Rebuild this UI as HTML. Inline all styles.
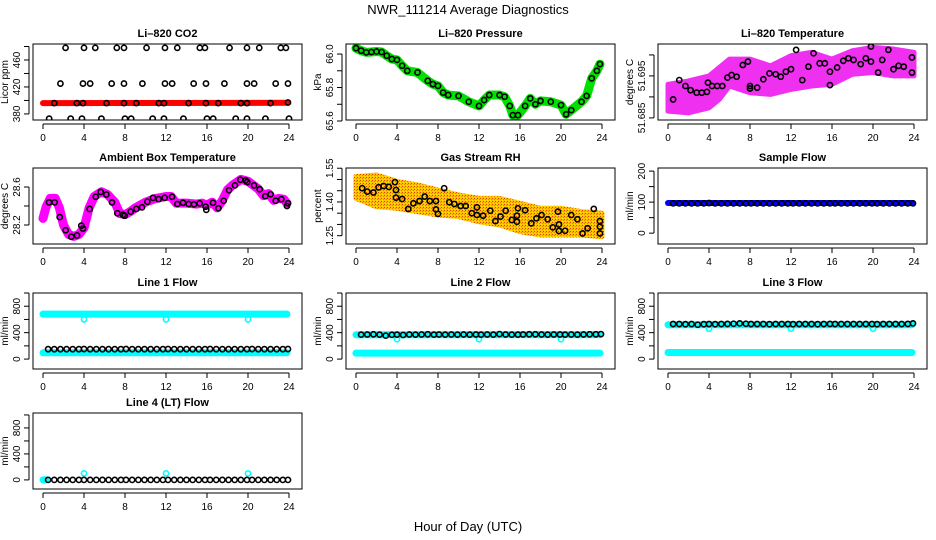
<!DOCTYPE html>
<html><head><meta charset="utf-8">
<style>
html,body{margin:0;padding:0;background:#fff;}
svg{display:block;font-family:"Liberation Sans",sans-serif;}
</style></head>
<body>
<svg id="chart" width="936" height="540" viewBox="0 0 936 540" xmlns="http://www.w3.org/2000/svg">
<defs>
<pattern id="rhpat" width="3" height="3" patternUnits="userSpaceOnUse">
<rect width="3" height="3" fill="#ffc400"/><rect width="1" height="1" fill="#e04000"/><rect x="2" y="1" width="1" height="1" fill="#f08000"/><rect x="1" y="2" width="1" height="1" fill="#ffe000"/>
</pattern>
</defs>
<text x="468" y="14" text-anchor="middle" font-size="13">NWR_111214  Average Diagnostics</text>
<text x="468" y="531" text-anchor="middle" font-size="13">Hour of Day (UTC)</text>
</svg>
<script>
// ---------- data ----------
const xTicks=[0,4,8,12,16,20,24];
// CO2
const co2Hours=[2.2,4.0,5.1,7.2,7.9,10.1,11.9,13.1,15.3,15.8,18.2,19.9,21.1,23.2,23.7,
 1.7,3.9,4.6,6.7,7.9,9.7,11.9,12.6,14.7,15.9,17.7,19.9,20.6,22.7,23.9,
 1.1,3.3,3.9,6.2,7.9,9.1,11.3,11.8,14.2,15.9,17.1,19.3,19.9,22.2,23.9,
 0.6,2.7,3.8,5.7,8.0,8.6,10.7,11.8,13.7,16.0,16.6,18.8,19.9,21.7,24.0];
const co2Values=[478,478,478,478,478,478,478,478,478,478,478,478,478,478,478,
 425,425,425,425,425,425,425,425,425,425,425,425,425,425,425,
 396,396,396,396,396,396,396,396,396,396,396,396,396,396,397,
 373,373,373,373,373,373,373,373,373,373,373,373,373,373,373];
const co2LineHours=[0,23.9];
const co2LineValues=[396,396.5];
const co2Ticks=[380,400,420,440,460,480];
const co2Labels=["380","420","460"];
// Pressure
const presHours=[0,0.5,1,1.5,2,2.5,3,3.5,4,4.5,5,6,7,7.5,8,8.5,9,10,11,12,12.5,13,14,14.5,15,15.3,15.8,16.5,17,17.5,18,19,20,20.5,21,22,22.5,23,23.5,23.8];
const presValues=[66.035,66.02,66.01,66.012,66.015,66.012,65.99,65.97,65.965,65.93,65.90,65.89,65.84,65.82,65.81,65.77,65.755,65.75,65.715,65.69,65.725,65.755,65.755,65.745,65.69,65.635,65.635,65.69,65.735,65.70,65.72,65.715,65.695,65.64,65.665,65.715,65.75,65.855,65.90,65.94];
const presTicks=[65.6,65.7,65.8,65.9,66.0];
const presLabels=["65.6","65.8","66.0"];
// Li-820 temperature
const ltBandHours=[0,2,4,5,6,8,10,12,14,16,18,20,22,24];
const ltUpper=[51.693,51.6938,51.695,51.697,51.699,51.699,51.6974,51.6998,51.7006,51.699,51.701,51.7018,51.7014,51.7006];
const ltLower=[51.6866,51.6862,51.6874,51.6894,51.6926,51.691,51.6906,51.6918,51.6926,51.693,51.6954,51.6958,51.695,51.695];
const ltHours=[0.5,1.1,1.7,2.2,2.8,3.3,3.8,3.9,4.3,4.8,5.3,5.8,6.2,6.7,7.3,7.8,8.0,8.0,8.7,9.3,9.9,10.5,11.0,11.5,12.0,12.5,13.1,13.7,14.2,14.8,15.3,15.8,15.8,16.5,17.1,17.6,18.1,18.8,19.3,19.8,19.8,20.5,20.9,21.5,22.0,22.5,23.0,23.8,23.8];
const ltValues=[51.6894,51.694,51.6926,51.6916,51.691,51.691,51.6912,51.6934,51.6926,51.6926,51.6926,51.6946,51.6952,51.6948,51.6976,51.6984,51.6926,51.692,51.6922,51.6942,51.6956,51.6954,51.6948,51.696,51.6966,51.7012,51.694,51.6972,51.7004,51.698,51.698,51.696,51.6928,51.697,51.6986,51.6992,51.6988,51.6978,51.6992,51.6984,51.702,51.6958,51.6988,51.7012,51.6966,51.6974,51.6972,51.6994,51.6958];
const ltTicks=[51.685,51.690,51.695,51.700];
const ltLabels=["51.685","51.695"];
// Ambient box temperature
const boxLineHours=[0,0.3,0.7,1.2,1.6,2,2.5,3,3.5,4,4.5,5,5.7,6.3,7,7.5,8,8.5,9,10,11,12,12.5,13,14,15,15.5,16,16.5,17,17.5,18,18.5,19.3,20,20.5,21,21.5,22,22.5,23,23.5,23.8];
const boxLineValues=[28.27,28.39,28.48,28.48,28.38,28.2,28.1,28.08,28.1,28.17,28.38,28.5,28.55,28.52,28.44,28.32,28.31,28.34,28.38,28.44,28.48,28.5,28.5,28.43,28.43,28.42,28.43,28.41,28.44,28.38,28.46,28.57,28.62,28.68,28.66,28.62,28.58,28.51,28.53,28.46,28.48,28.47,28.43];
const boxHours=[0.59,1.14,1.63,2.21,2.76,3.32,3.74,3.90,4.55,5.14,5.63,6.18,6.73,7.25,7.80,7.97,8.55,9.11,9.66,10.18,10.73,11.28,11.87,12.59,13.11,13.66,14.21,14.73,15.28,15.87,15.93,16.59,17.11,17.63,18.15,18.73,19.25,19.77,19.93,20.59,21.14,21.69,22.21,22.70,23.25,23.80,23.90];
const boxValues=[28.438,28.438,28.283,28.145,28.076,28.090,28.193,28.162,28.369,28.497,28.548,28.521,28.438,28.324,28.307,28.297,28.341,28.369,28.386,28.445,28.486,28.472,28.486,28.497,28.421,28.434,28.421,28.417,28.428,28.393,28.359,28.434,28.376,28.455,28.566,28.617,28.676,28.669,28.652,28.617,28.576,28.503,28.524,28.455,28.472,28.400,28.428];
const boxTicks=[28.2,28.4,28.6];
const boxLabels=["28.2","28.6"];
// Gas stream RH
const rhBandHours=[0,2,4,6,8,10,12,14,16,18,20,22,24];
const rhUpper=[1.513,1.520,1.491,1.476,1.453,1.431,1.416,1.416,1.394,1.372,1.372,1.357,1.350];
const rhLower=[1.416,1.379,1.372,1.357,1.342,1.335,1.312,1.298,1.268,1.253,1.253,1.253,1.246];
const rhHours=[0.6,1.1,1.7,2.2,2.7,3.2,3.8,3.9,3.9,4.5,5.1,5.6,6.2,6.7,7.2,7.8,7.8,8.0,8.6,9.1,9.6,10.2,10.7,11.3,11.8,11.8,12.4,13.1,13.6,14.1,14.6,15.2,15.7,15.7,15.8,16.5,17.1,17.6,18.1,18.7,19.2,19.7,19.8,19.8,20.4,21.0,21.6,22.1,22.6,23.2,23.8,23.8,23.8];
const rhValues=[1.461,1.446,1.442,1.465,1.471,1.467,1.488,1.453,1.419,1.413,1.369,1.394,1.404,1.424,1.404,1.404,1.367,1.347,1.461,1.399,1.391,1.382,1.382,1.350,1.376,1.342,1.339,1.361,1.315,1.335,1.361,1.320,1.312,1.339,1.372,1.363,1.305,1.327,1.342,1.323,1.287,1.357,1.300,1.271,1.272,1.342,1.323,1.260,1.283,1.369,1.315,1.290,1.260];
const rhTicks=[1.25,1.30,1.35,1.40,1.45,1.50,1.55];
const rhLabels=["1.25","1.40","1.55"];
// Flows
const flowHours=[0.5,1.1,1.7,2.3,2.9,3.5,4.0,4.6,5.2,5.8,6.4,7.0,7.6,8.1,8.7,9.3,9.9,10.5,11.1,11.7,12.2,12.8,13.4,14.0,14.6,15.2,15.8,16.3,16.9,17.5,18.1,18.7,19.3,19.9,20.4,21.0,21.6,22.2,22.8,23.4,23.9];
const sampleBlack=[96,96,96,96,96,96,97,96,96,96,96,96,96,96,96,96,96,96,96,96,96,96,96,96,96,96,96,96,96,96,96,96,96,96,96,96,96,96,96,96,96];
const sampleLineHours=[0,23.9];
const sampleLineValues=[97,97];
const line1Black=[150,150,150,150,150,150,152,150,150,150,150,150,150,152,150,150,150,150,150,150,152,150,150,150,150,150,150,152,150,150,150,150,150,150,152,150,150,150,150,150,152];
const line1CyanHigh=[680,680];
const line1CyanLow=[95,95];
const line1OutHours=[4,12,20];
const line1OutValues=[600,600,600];
const line2Black=[370,372,375,370,355,368,370,365,372,370,372,375,370,372,370,372,370,372,370,372,370,372,370,378,372,370,370,372,375,375,372,370,372,372,370,372,370,372,375,375,378];
const line2CyanHigh=[368,370];
const line2CyanLow=[90,90];
const line2OutHours=[4,12,20];
const line2OutValues=[300,300,300];
const line3Black=[530,530,528,530,520,528,530,528,530,532,535,540,535,530,530,530,528,530,530,530,528,530,530,530,528,530,532,530,530,530,530,530,530,530,528,530,530,530,530,532,540];
const line3CyanHigh=[520,520];
const line3CyanLow=[100,100];
const line3OutHours=[4,12,20];
const line3OutValues=[460,460,460];
const line4Black=[0,0,0,0,0,0,0,0,0,0,0,0,0,0,0,0,0,0,0,0,0,0,0,0,0,0,0,0,0,0,0,0,0,0,0,0,0,0,0,0,0];
const line4Cyan=[0,0];
const line4CyanHours=[0,0.3];
const line4OutHours=[4,12,20];
const line4OutValues=[100,100,100];
const flowTicks=[0,200,400,600,800,1000];
const flowLabels=["0","400","800"];
const fullHours=[0,23.8];

// ---------- drawing ----------
const NS='http://www.w3.org/2000/svg';
const svg=document.getElementById('chart');
const COLS=[33,346,658], ROWS=[44,168,293,413], W=269, H=76;
function el(tag,attrs,parent){const e=document.createElementNS(NS,tag);for(const k in attrs)e.setAttribute(k,attrs[k]);(parent||svg).appendChild(e);return e;}

function makePanel(name,col,row,title,ylab,ymin,ymax,ticks,labels){
  const L=COLS[col],T=ROWS[row],B=T+H;
  const g=el('g',{});
  
  
  const xs=h=>L+10+h*(246/24);
  const ys=v=>B-(v-ymin)/(ymax-ymin)*H;
  const t=el('text',{x:L+W/2,y:T-7,'text-anchor':'middle','font-size':11,'font-weight':'bold'},g);t.textContent=title;
  
  
  const xa=el('g',{},g);
  
  
  el('line',{x1:xs(0),x2:xs(24),y1:B+4,y2:B+4,stroke:'#000','stroke-width':1},xa);
  xTicks.forEach(v=>{el('line',{x1:xs(v),x2:xs(v),y1:B+4,y2:B+9,stroke:'#000'},xa);
    const tx=el('text',{x:xs(v),y:B+21,'text-anchor':'middle','font-size':10},xa);tx.textContent=v;});
  const ya=el('g',{},g);
  
  
  el('line',{x1:L-4,x2:L-4,y1:ys(ticks[0]),y2:ys(ticks[ticks.length-1]),stroke:'#000'},ya);
  ticks.forEach(v=>el('line',{x1:L-9,x2:L-4,y1:ys(v),y2:ys(v),stroke:'#000'},ya));
  labels.forEach(s=>{const X=L-13,Y=ys(parseFloat(s));const tx=el('text',{x:X,y:Y,'text-anchor':'middle','font-size':10,transform:`rotate(-90 ${X} ${Y})`},ya);tx.textContent=s;});
  const yl=el('text',{x:L-25,y:T+H/2,'text-anchor':'middle','font-size':10,transform:`rotate(-90 ${L-25} ${T+H/2})`},g);yl.textContent=ylab;
  
  
  const clipId='c'+name;
  const cp=el('clipPath',{id:clipId},g);el('rect',{x:L,y:T,width:W,height:H},cp);
  const plot=el('g',{'clip-path':`url(#${clipId})`},g);
  const box=el('rect',{x:L,y:T,width:W,height:H,fill:'none',stroke:'#000','stroke-width':1},g);
  
  
  return {g:plot,xs,ys};
}
function line(p,hs,vs,color,w,nm){
  const pl=el('polyline',{points:hs.map((h,i)=>p.xs(h)+','+p.ys(vs[i])).join(' '),fill:'none',stroke:color,'stroke-width':w,'stroke-linecap':'round','stroke-linejoin':'round'},p.g);
  
  
}
function band(p,hs,up,lo,fill,nm){
  const pts=hs.map((h,i)=>p.xs(h)+','+p.ys(up[i])).concat(hs.slice().reverse().map((h,i)=>p.xs(h)+','+p.ys(lo[hs.length-1-i])));
  const pg=el('polygon',{points:pts.join(' '),fill:fill,stroke:fill,'stroke-width':5,'stroke-linejoin':'round'},p.g);
  
  
}
function pts(p,hs,vs,color,nm){
  const gg=el('g',{},p.g);
  
  
  hs.forEach((h,i)=>{const c=el('circle',{cx:p.xs(h),cy:p.ys(vs[i]),r:2.6,fill:'none',stroke:color,'stroke-width':1.6},gg);
    
    });
}

let p;
p=makePanel('co2',0,0,'Li–820 CO2','Licor ppm',371,483.7,co2Ticks,co2Labels);
line(p,co2LineHours,co2LineValues,'#ff0000',6,'co2-line');
pts(p,co2Hours,co2Values,'#000','co2-points');

p=makePanel('pressure',1,0,'Li–820 Pressure','kPa',65.606,66.06,presTicks,presLabels);
line(p,presHours,presValues,'#00e000',9,'pressure-line');
pts(p,presHours,presValues,'#000','pressure-points');

p=makePanel('li820-temp',2,0,'Li–820 Temperature','degrees C',51.6845,51.7026,ltTicks,ltLabels);
band(p,ltBandHours,ltUpper,ltLower,'#f030f0','li820-temp-cloud');
pts(p,ltHours,ltValues,'#000','li820-temp-points');

p=makePanel('box-temp',0,1,'Ambient Box Temperature','degrees C',28.0,28.8,boxTicks,boxLabels);
line(p,boxLineHours,boxLineValues,'#ff00ff',9,'box-temp-line');
pts(p,boxHours,boxValues,'#000','box-temp-points');

p=makePanel('rh',1,1,'Gas Stream RH','percent',1.213,1.551,rhTicks,rhLabels);
band(p,rhBandHours,rhUpper,rhLower,'url(#rhpat)','rh-cloud');
pts(p,rhHours,rhValues,'#000','rh-points');

p=makePanel('sample-flow',2,1,'Sample Flow','ml/min',-35,210,[0,50,100,150,200],["0","100","200"]);
line(p,sampleLineHours,sampleLineValues,'#0000ff',6,'sample-flow-line');
pts(p,flowHours,sampleBlack,'#000','sample-flow-points');

p=makePanel('line1-flow',0,2,'Line 1 Flow','ml/min',-150,1000,flowTicks,flowLabels);
line(p,fullHours,line1CyanHigh,'#00ffff',7,'line1-cyan-high');
line(p,fullHours,line1CyanLow,'#00ffff',7,'line1-cyan-low');
pts(p,line1OutHours,line1OutValues,'#00ffff','line1-cyan-outliers');
pts(p,flowHours,line1Black,'#000','line1-points');

p=makePanel('line2-flow',1,2,'Line 2 Flow','ml/min',-150,1000,flowTicks,flowLabels);
line(p,fullHours,line2CyanHigh,'#00ffff',7,'line2-cyan-high');
line(p,fullHours,line2CyanLow,'#00ffff',7,'line2-cyan-low');
pts(p,line2OutHours,line2OutValues,'#00ffff','line2-cyan-outliers');
pts(p,flowHours,line2Black,'#000','line2-points');

p=makePanel('line3-flow',2,2,'Line 3 Flow','ml/min',-150,1000,flowTicks,flowLabels);
line(p,fullHours,line3CyanHigh,'#00ffff',7,'line3-cyan-high');
line(p,fullHours,line3CyanLow,'#00ffff',7,'line3-cyan-low');
pts(p,line3OutHours,line3OutValues,'#00ffff','line3-cyan-outliers');
pts(p,flowHours,line3Black,'#000','line3-points');

p=makePanel('line4-flow',0,3,'Line 4 (LT) Flow','ml/min',-140,1030,flowTicks,flowLabels);
line(p,line4CyanHours,line4Cyan,'#00ffff',7,'line4-cyan');
pts(p,line4OutHours,line4OutValues,'#00ffff','line4-cyan-outliers');
pts(p,flowHours,line4Black,'#000','line4-points');
</script>
</body></html>
